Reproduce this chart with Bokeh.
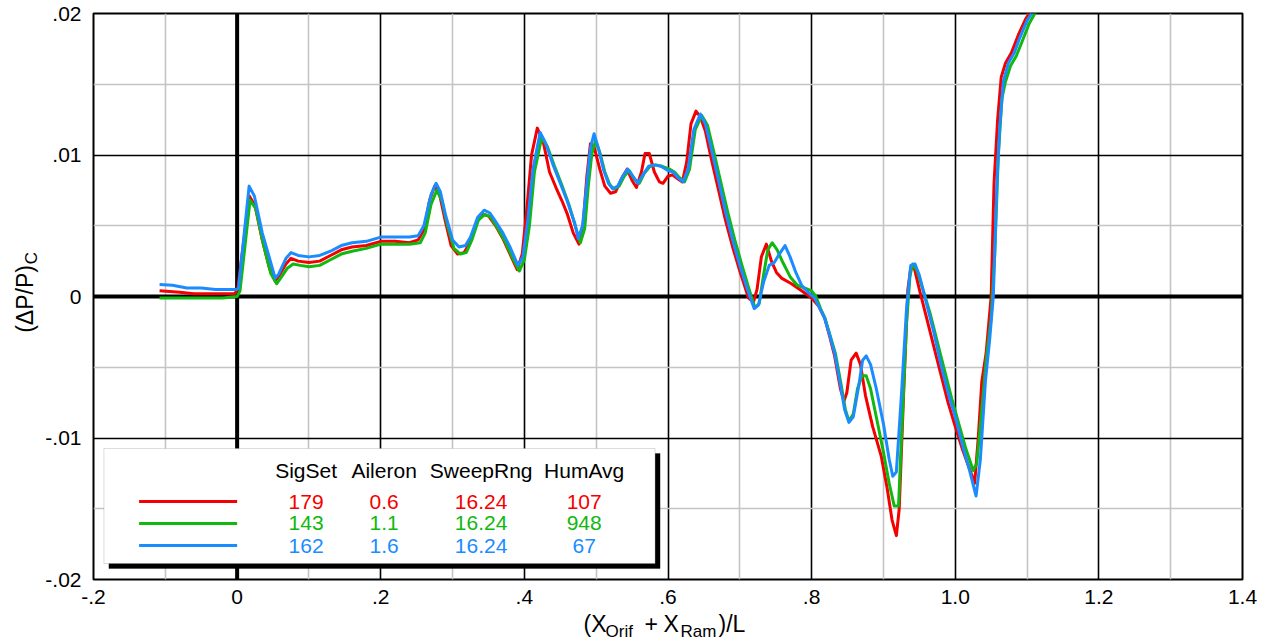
import math
from bokeh.plotting import figure
from bokeh.layouts import column, row
from bokeh.models import (FixedTicker, CustomJSTickFormatter, Span, BoxAnnotation,
                          Label, ColumnDataSource, Range1d)
from bokeh.embed import file_html
from bokeh.resources import INLINE

# ---------------- data ----------------
x_ticks = [-0.2, 0.0, 0.2, 0.4, 0.6, 0.8, 1.0, 1.2, 1.4]
x_tick_labels = ["-.2", "0", ".2", ".4", ".6", ".8", "1.0", "1.2", "1.4"]
x_minor = [-0.1, 0.1, 0.3, 0.5, 0.7, 0.9, 1.1, 1.3]
y_ticks = [-0.02, -0.01, 0.0, 0.01, 0.02]
y_tick_labels = ["-.02", "-.01", "0", ".01", ".02"]
y_minor = [-0.015, -0.005, 0.005, 0.015]

legend_header = ["SigSet", "Aileron", "SweepRng", "HumAvg"]
sigset = ["179", "143", "162"]
aileron = ["0.6", "1.1", "1.6"]
sweeprng = ["16.24", "16.24", "16.24"]
humavg = ["107", "948", "67"]
colors = ["#f40000", "#10b810", "#1a8cff"]

red_x = [-0.108, -0.08, -0.06, -0.04, -0.02, -0.003, 0.001, 0.017, 0.025, 0.035, 0.045, 0.053, 0.06, 0.068,
         0.075, 0.085, 0.1, 0.115, 0.13, 0.145, 0.16, 0.18, 0.2, 0.22, 0.24, 0.252, 0.26, 0.268, 0.275, 0.282,
         0.29, 0.298, 0.307, 0.316, 0.324, 0.334, 0.342, 0.35, 0.36, 0.37, 0.38, 0.39, 0.397, 0.404, 0.41,
         0.418, 0.426, 0.435, 0.444, 0.452, 0.46, 0.468, 0.476, 0.482, 0.487, 0.492, 0.497, 0.505, 0.512,
         0.52, 0.527, 0.535, 0.543, 0.55, 0.556, 0.563, 0.568, 0.574, 0.581, 0.588, 0.593, 0.6, 0.606, 0.614,
         0.62, 0.626, 0.632, 0.639, 0.645, 0.652, 0.66, 0.67, 0.68, 0.69, 0.70, 0.712, 0.719, 0.724, 0.73,
         0.737, 0.744, 0.751, 0.758, 0.772, 0.786, 0.8, 0.81, 0.818, 0.825, 0.832, 0.84, 0.845, 0.849, 0.855,
         0.862, 0.868, 0.875, 0.885, 0.897, 0.905, 0.912, 0.918, 0.922, 0.928, 0.934, 0.938, 0.943, 0.95,
         0.96, 0.97, 0.98, 0.99, 1.0, 1.01, 1.02, 1.027, 1.032, 1.037, 1.043, 1.05, 1.054, 1.059, 1.064,
         1.07, 1.078, 1.088, 1.098, 1.108, 1.118]
red_y = [0.0004, 0.0003, 0.0002, 0.0002, 0.0002, 0.0002, 0.0006, 0.0071, 0.0064, 0.0040, 0.0020, 0.0011,
         0.0016, 0.0023, 0.0027, 0.0025, 0.0024, 0.0025, 0.0029, 0.0033, 0.0035, 0.0036, 0.0039, 0.0039,
         0.0038, 0.0040, 0.0047, 0.0068, 0.0078, 0.0072, 0.0053, 0.0036, 0.0030, 0.0031, 0.0038, 0.0053,
         0.0058, 0.0057, 0.0050, 0.0041, 0.0030, 0.0019, 0.0030, 0.0065, 0.0100, 0.0119, 0.0110, 0.0088,
         0.0077, 0.0068, 0.0058, 0.0045, 0.0037, 0.0052, 0.0085, 0.0108, 0.0106, 0.0090, 0.0078, 0.0073,
         0.0074, 0.0083, 0.0090, 0.0082, 0.0077, 0.0088, 0.0101, 0.0101, 0.0088, 0.0081, 0.0080, 0.0085,
         0.0086, 0.0083, 0.0081, 0.0095, 0.0122, 0.0131, 0.0127, 0.0117, 0.0098, 0.0076, 0.0054, 0.0035,
         0.0018, -0.0001, -0.0004, 0.0005, 0.0028, 0.0037, 0.0025, 0.0017, 0.0013, 0.0009, 0.0004, -0.0001,
         -0.0007, -0.0015, -0.0028, -0.0042, -0.0065, -0.0074, -0.0068, -0.0045, -0.0040, -0.0048, -0.0070,
         -0.0092, -0.0113, -0.0135, -0.0158, -0.0169, -0.0150, -0.0070, 0.0005, 0.0020, 0.0020, 0.0005,
         -0.0015, -0.0035, -0.0055, -0.0075, -0.0092, -0.0108, -0.0122, -0.0132, -0.0100, -0.0060, -0.0040,
         0.0, 0.0080, 0.0125, 0.0155, 0.0165, 0.0172, 0.0185, 0.0196, 0.0204, 0.0211]

green_x = [-0.108, -0.08, -0.05, -0.02, 0.0, 0.004, 0.018, 0.026, 0.036, 0.047, 0.055, 0.062, 0.07, 0.078,
           0.088, 0.1, 0.115, 0.13, 0.145, 0.16, 0.18, 0.2, 0.22, 0.24, 0.255, 0.262, 0.27, 0.278, 0.285,
           0.293, 0.302, 0.311, 0.319, 0.327, 0.336, 0.345, 0.353, 0.362, 0.372, 0.382, 0.393, 0.4, 0.407,
           0.414, 0.424, 0.432, 0.442, 0.452, 0.462, 0.472, 0.478, 0.484, 0.489, 0.494, 0.499, 0.505, 0.512,
           0.519, 0.525, 0.532, 0.539, 0.546, 0.553, 0.56, 0.567, 0.575, 0.583, 0.592, 0.602, 0.609, 0.616,
           0.623, 0.63, 0.638, 0.647, 0.655, 0.663, 0.673, 0.683, 0.693, 0.703, 0.713, 0.721, 0.727, 0.733,
           0.739, 0.745, 0.752, 0.76, 0.77, 0.78, 0.79, 0.8, 0.806, 0.812, 0.819, 0.826, 0.833, 0.841, 0.847,
           0.852, 0.858, 0.864, 0.87, 0.876, 0.882, 0.89, 0.9, 0.908, 0.915, 0.921, 0.926, 0.932, 0.937,
           0.941, 0.947, 0.955, 0.965, 0.975, 0.985, 0.995, 1.005, 1.015, 1.025, 1.03, 1.036, 1.043, 1.05,
           1.055, 1.06, 1.065, 1.07, 1.077, 1.085, 1.093, 1.103, 1.113, 1.123]
green_y = [-0.0001, -0.0001, -0.0001, -0.0001, 0.0, 0.0004, 0.0068, 0.0062, 0.0038, 0.0016, 0.0009, 0.0014,
           0.0020, 0.0023, 0.0022, 0.0021, 0.0022, 0.0026, 0.0030, 0.0032, 0.0034, 0.0037, 0.0037, 0.0037,
           0.0038, 0.0045, 0.0065, 0.0075, 0.0068, 0.0050, 0.0034, 0.0030, 0.0031, 0.0040, 0.0054, 0.0058,
           0.0056, 0.0049, 0.0040, 0.0029, 0.0018, 0.0026, 0.0050, 0.0088, 0.0112, 0.0106, 0.0092, 0.0079,
           0.0065, 0.0048, 0.0038, 0.0048, 0.0078, 0.0101, 0.0110, 0.0102, 0.0088, 0.0079, 0.0076, 0.0078,
           0.0085, 0.0089, 0.0083, 0.0080, 0.0087, 0.0092, 0.0093, 0.0092, 0.0090, 0.0088, 0.0084, 0.0081,
           0.0090, 0.0118, 0.0128, 0.0121, 0.0104, 0.0082, 0.0060, 0.0040, 0.0022, 0.0005, -0.0008, -0.0005,
           0.0015, 0.0033, 0.0038, 0.0033, 0.0024, 0.0014, 0.0008, 0.0006, 0.0004, 0.0, -0.0008, -0.0016,
           -0.0028, -0.0040, -0.0062, -0.0080, -0.0088, -0.0083, -0.0065, -0.0056, -0.0056, -0.0065, -0.0085,
           -0.0110, -0.0132, -0.0148, -0.0148, -0.0090, -0.0020, 0.0015, 0.0023, 0.0018, 0.0005, -0.0012,
           -0.0032, -0.0052, -0.0072, -0.0090, -0.0108, -0.0123, -0.0118, -0.0085, -0.0045, -0.0015, 0.0030,
           0.0100, 0.0140, 0.0152, 0.0163, 0.0170, 0.0180, 0.0193, 0.0202, 0.0210]

blue_x = [-0.108, -0.09, -0.07, -0.05, -0.03, -0.01, 0.0, 0.002, 0.0167, 0.024, 0.035, 0.053, 0.058, 0.068,
          0.075, 0.085, 0.1, 0.115, 0.13, 0.145, 0.16, 0.18, 0.2, 0.22, 0.24, 0.252, 0.26, 0.27, 0.277, 0.283,
          0.29, 0.3, 0.309, 0.318, 0.325, 0.335, 0.344, 0.352, 0.36, 0.37, 0.38, 0.391, 0.398, 0.405, 0.412,
          0.422, 0.43, 0.44, 0.45, 0.46, 0.47, 0.475, 0.481, 0.487, 0.492, 0.497, 0.503, 0.51, 0.517, 0.523,
          0.53, 0.537, 0.544, 0.551, 0.558, 0.565, 0.573, 0.581, 0.59, 0.6, 0.607, 0.614, 0.621, 0.628, 0.636,
          0.645, 0.652, 0.66, 0.67, 0.68, 0.69, 0.70, 0.71, 0.72, 0.726, 0.733, 0.741, 0.748, 0.755, 0.763,
          0.77, 0.778, 0.786, 0.795, 0.804, 0.811, 0.818, 0.825, 0.832, 0.84, 0.846, 0.852, 0.858, 0.866,
          0.871, 0.876, 0.882, 0.89, 0.9, 0.908, 0.913, 0.918, 0.925, 0.932, 0.938, 0.944, 0.95, 0.96, 0.97,
          0.98, 0.99, 1.0, 1.01, 1.02, 1.029, 1.035, 1.042, 1.048, 1.053, 1.058, 1.062, 1.067, 1.074, 1.082,
          1.09, 1.1, 1.11, 1.12]
blue_y = [0.00085, 0.0008, 0.0006, 0.0006, 0.0005, 0.0005, 0.0005, 0.0006, 0.0078, 0.0071, 0.0045, 0.0013,
          0.0016, 0.0027, 0.0031, 0.0029, 0.0028, 0.0029, 0.0032, 0.0036, 0.0038, 0.0039, 0.0042, 0.0042,
          0.0042, 0.0043, 0.0050, 0.0072, 0.0080, 0.0074, 0.0058, 0.0040, 0.0035, 0.0036, 0.0042, 0.0056,
          0.0061, 0.0059, 0.0053, 0.0045, 0.0035, 0.0022, 0.0028, 0.0055, 0.0090, 0.0116, 0.0108, 0.0093,
          0.0080, 0.0067, 0.0052, 0.0041, 0.0050, 0.0080, 0.0105, 0.0115, 0.0105, 0.0090, 0.0080, 0.0076,
          0.0078, 0.0085, 0.0090, 0.0085, 0.0080, 0.0086, 0.0092, 0.0093, 0.0092, 0.0089, 0.0088, 0.0084,
          0.0081, 0.0090, 0.0118, 0.0129, 0.0122, 0.0105, 0.0083, 0.0060, 0.0040, 0.0022, 0.0006, -0.00085,
          -0.0006, 0.0010, 0.0022, 0.0024, 0.0030, 0.0036, 0.0028, 0.0017, 0.0008, 0.0003, -0.0001, -0.0008,
          -0.0015, -0.0027, -0.0040, -0.0062, -0.0080, -0.0089, -0.0085, -0.0062, -0.0045, -0.0042, -0.0048,
          -0.0065, -0.0090, -0.0115, -0.0127, -0.0124, -0.0070, -0.0010, 0.0022, 0.0023, 0.0015, -0.0005,
          -0.0025, -0.0048, -0.0068, -0.0085, -0.0105, -0.0123, -0.0141, -0.0115, -0.0060, -0.0030, 0.0,
          0.0080, 0.0120, 0.0152, 0.0165, 0.0172, 0.0183, 0.0195, 0.0203, 0.0210]

series = [(red_x, red_y), (green_x, green_y), (blue_x, blue_y)]

# ---------------- layout / style ----------------
FONT = "Liberation Sans"
TOTAL_W, TOTAL_H = 1268, 641
LEFT_W = 42          # strip holding the y-axis title
MAIN_H = 612         # main figure height; strip below holds the x-axis title

p = figure(width=TOTAL_W - LEFT_W, height=MAIN_H, output_backend="svg", toolbar_location=None,
           x_range=Range1d(-0.2, 1.4), y_range=Range1d(-0.02, 0.02),
           min_border_left=51, min_border_right=26, min_border_top=13, min_border_bottom=33)
p.background_fill_color = "white"
p.border_fill_color = "white"
p.outline_line_color = "black"
p.outline_line_width = 2

fmt_code = """
for (let i = 0; i < vals.length; i++) {
  if (Math.abs(tick - vals[i]) < 1e-9) { return labs[i]; }
}
return '';
"""
p.xaxis.ticker = FixedTicker(ticks=x_ticks, minor_ticks=x_minor)
p.yaxis.ticker = FixedTicker(ticks=y_ticks, minor_ticks=y_minor)
p.xaxis.formatter = CustomJSTickFormatter(args=dict(vals=x_ticks, labs=x_tick_labels), code=fmt_code)
p.yaxis.formatter = CustomJSTickFormatter(args=dict(vals=y_ticks, labs=y_tick_labels), code=fmt_code)
for ax in (p.xaxis, p.yaxis):
    ax.axis_line_color = None
    ax.major_tick_line_color = None
    ax.minor_tick_line_color = None
    ax.major_tick_out = 0
    ax.major_tick_in = 0
    ax.minor_tick_out = 0
    ax.minor_tick_in = 0
    ax.major_label_text_font = FONT
    ax.major_label_text_font_size = "21px"
    ax.major_label_text_color = "black"
p.yaxis.major_label_standoff = 12
p.xaxis.major_label_standoff = 10

p.xgrid.grid_line_color = "black"
p.ygrid.grid_line_color = "black"
p.xgrid.grid_line_width = 1.6
p.ygrid.grid_line_width = 1.6
p.xgrid.minor_grid_line_color = "#c4c4c4"
p.ygrid.minor_grid_line_color = "#c4c4c4"
p.xgrid.minor_grid_line_width = 1.6
p.ygrid.minor_grid_line_width = 1.6

p.add_layout(Span(location=0, dimension="height", line_color="black", line_width=4, level="underlay"))
p.add_layout(Span(location=0, dimension="width", line_color="black", line_width=4, level="underlay"))

for (xs, ys), c in zip(series, colors):
    p.line(xs, ys, line_color=c, line_width=3, line_join="round")

# ---- legend box (layout in data units of the fixed axes) ----
PX_X = 1.6 / 1149.0      # data per pixel in x
PX_Y = 0.04 / 566.0      # data per pixel in y
bx0, bx1, by0, by1 = -0.1855, 0.582, -0.01887, -0.01074
sh = 5
p.add_layout(BoxAnnotation(left=bx0 + sh * PX_X, right=bx1 + sh * PX_X, bottom=by0 - sh * PX_Y,
                           top=by1 - sh * PX_Y, fill_color="black", fill_alpha=1.0,
                           line_color="black", level="annotation"))
p.add_layout(BoxAnnotation(left=bx0, right=bx1, bottom=by0, top=by1, fill_color="white", fill_alpha=1.0,
                           line_color="#8c8c8c", line_width=1, level="annotation"))

row_y = [-0.01449, -0.01604, -0.0176]
head_y = -0.0123
col_x = [0.0961, 0.2047, 0.3398, 0.4833]
seg = ColumnDataSource(dict(x0=[-0.1365] * 3, x1=[0.0] * 3, y=row_y, c=colors))
sr = p.segment(x0="x0", y0="y", x1="x1", y1="y", line_color="c", line_width=3, source=seg)
sr.level = "overlay"


def lab(fig, x, y, text, color="black", size="21px", align="center", baseline="middle", angle=0.0):
    fig.add_layout(Label(x=x, y=y, text=text, text_color=color, text_font=FONT, text_font_size=size,
                         text_align=align, text_baseline=baseline, angle=angle, level="overlay"))


for cx, h in zip(col_x, legend_header):
    lab(p, cx, head_y, h)
for i, c in enumerate(colors):
    for cx, v in zip(col_x, [sigset[i], aileron[i], sweeprng[i], humavg[i]]):
        lab(p, cx, row_y[i], v, color=c)


def strip(w, h):
    f = figure(width=w, height=h, output_backend="svg", toolbar_location=None,
               x_range=Range1d(0, w), y_range=Range1d(h, 0),
               x_axis_type=None, y_axis_type=None,
               min_border_left=0, min_border_right=0, min_border_top=0, min_border_bottom=0)
    f.outline_line_color = None
    f.background_fill_color = "white"
    f.border_fill_color = "white"
    f.xgrid.visible = False
    f.ygrid.visible = False
    return f


# ---- y-axis title strip (pixel coordinates, y downwards) ----
left = strip(LEFT_W, MAIN_H)
lab(left, 24, 272, "(\u0394P/P)", size="23px", align="right", angle=math.pi / 2)
lab(left, 31, 271, "C", size="17px", align="left", angle=math.pi / 2)

# ---- x-axis title strip (pixel coordinates of the whole page) ----
bottom = strip(TOTAL_W, TOTAL_H - MAIN_H)
main_y, sub_y = 11, 19
lab(bottom, 583, main_y, "(X", size="23px", align="left")
lab(bottom, 605, sub_y, "Orif", size="17px", align="left")
lab(bottom, 644, main_y, "+", size="23px", align="left")
lab(bottom, 663, main_y, "X", size="23px", align="left")
lab(bottom, 680, sub_y, "Ram", size="17px", align="left")
lab(bottom, 718, main_y, ")/L", size="23px", align="left")

layout = column(row(left, p, spacing=0), bottom, spacing=0)
open("out.html", "w").write(file_html(layout, INLINE))
